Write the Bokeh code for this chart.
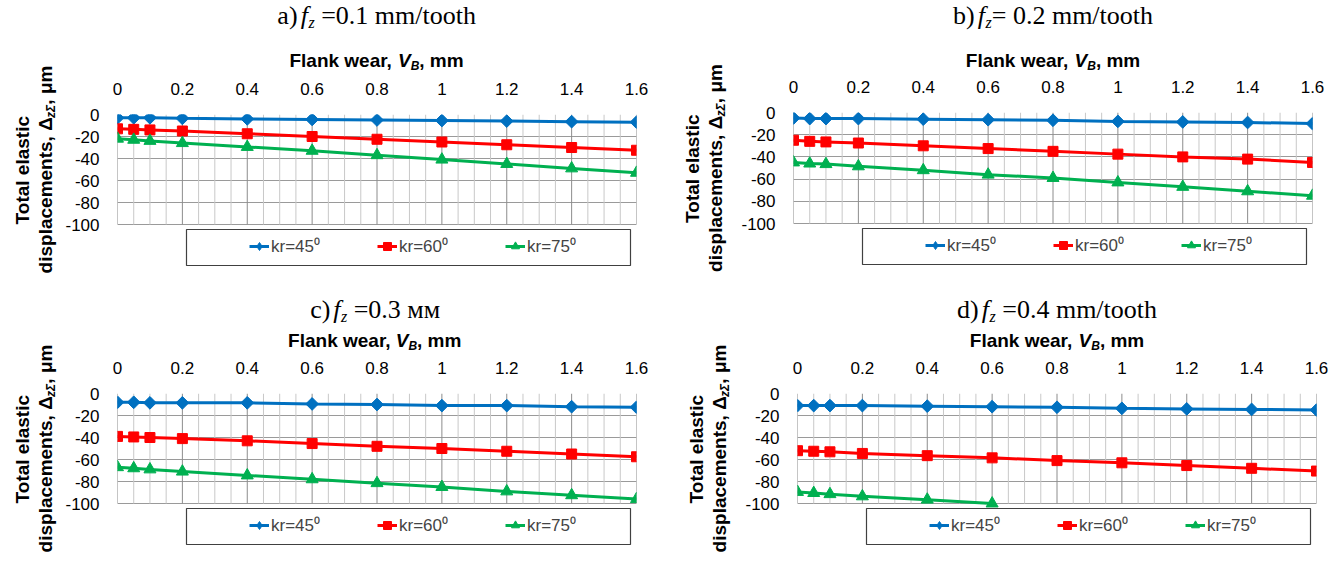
from math import pi

from bokeh.core.properties import value
from bokeh.embed import file_html
from bokeh.layouts import column, row
from bokeh.models import (BoxAnnotation, FixedTicker, Legend, LegendItem,
                          Range1d)
from bokeh.plotting import figure
from bokeh.resources import INLINE

# ---- data -------------------------------------------------------------
wear = [0, 0.05, 0.1, 0.2, 0.4, 0.6, 0.8, 1.0, 1.2, 1.4, 1.6]

a_kr45 = [-3, -3, -3, -3.5, -4, -4.5, -5, -5.5, -6, -6.5, -7]
a_kr60 = [-13, -13.5, -14, -15, -17.5, -20, -22.5, -25, -27.5, -30, -32.5]
a_kr75 = [-22, -23, -24, -26, -29.5, -33, -37, -41, -45, -49, -53]

b_kr45 = [-5, -5.5, -5.5, -5.5, -6, -6.5, -7, -8, -8.5, -9, -10]
b_kr60 = [-25, -26, -26.5, -27.5, -30, -32.5, -35, -37.5, -40, -42, -45]
b_kr75 = [-45, -46, -46.5, -48.5, -52, -56, -59, -63, -67, -71, -75]

c_kr45 = [-8, -8, -8.5, -8.5, -8.5, -9.5, -10, -11, -11, -12, -12.5]
c_kr60 = [-39, -39.5, -40, -41, -43, -45.5, -48, -50, -52.5, -55, -57.5]
c_kr75 = [-67, -68, -69, -71, -74.5, -78, -81.5, -85, -89, -92.5, -96]

d_kr45 = [-11, -11, -11, -11, -11.5, -12, -12.5, -13.5, -14, -14.5, -15]
d_kr60 = [-52, -52.5, -53, -54.5, -56.5, -58.5, -61, -63, -65.5, -68, -70.5]
# only the part of this series that lies inside the -100 limit is shown
d_kr75 = [-89.5, -90.5, -91.5, -93.5, -96.5, -100]

series_labels = ["kr=45\u2070", "kr=60\u2070", "kr=75\u2070"]
series_colors = ["#0070C0", "#FF0000", "#00B050"]

x_major = [0, 0.2, 0.4, 0.6, 0.8, 1, 1.2, 1.4, 1.6]
x_major_text = ["0", "0.2", "0.4", "0.6", "0.8", "1", "1.2", "1.4", "1.6"]
x_minor = [round(i * 0.05, 2) for i in range(33) if i % 4]
y_major = [-100, -80, -60, -40, -20, 0]
y_major_text = ["-100", "-80", "-60", "-40", "-20", "0"]
Y_MIN, Y_MAX = -100, 0

# (label, text after the subscript, gap before that text in em)
panel_titles = [
    ("a)", "=0.1 mm/tooth", .25),
    ("b)", "= 0.2 mm/tooth", 0),
    ("c)", "=0.3 \u043c\u043c", .25),
    ("d)", "=0.4 mm/tooth", .25),
]
panel_data = [
    (a_kr45, a_kr60, a_kr75),
    (b_kr45, b_kr60, b_kr75),
    (c_kr45, c_kr60, c_kr75),
    (d_kr45, d_kr60, d_kr75),
]

# ---- approximate glyph advance widths (em fractions) ------------------
SANS_B = {"F": .611, "l": .278, "a": .556, "n": .611, "k": .556, " ": .278,
          "w": .778, "e": .556, "r": .389, ",": .278, "V": .667, "B": .722,
          "m": .889, "T": .611, "o": .611, "t": .333, "i": .278, "s": .556,
          "c": .556, "d": .611, "p": .611, "\u0394": .67, "z": .5,
          "\u03a3": .62, "\u03bc": .611}
SERIF = {"a": .444, "b": .5, "c": .444, "d": .5, ")": .333, " ": .25,
         "=": .564, ".": .25, "m": .778, "/": .278, "t": .278, "o": .5,
         "h": .5, "\u043c": .62, "f": .3, "z": .389}
SERIF.update({d: .5 for d in "0123456789"})

SANS_FONT = "Liberation Sans"
SERIF_FONT = "Liberation Serif"


def text_w(s, size, table):
    return size * sum(table.get(ch, .55) for ch in s)


def put_runs(p, runs, cx, cy, vertical=False):
    """Lay out runs (text, size, font, style, drop, table, gap_after_em)
    centred on (cx, cy); drop lowers subscripts."""
    adv = [text_w(r[0], r[1], r[5]) + r[6] * r[1] for r in runs]
    pos = -sum(adv) / 2
    for (txt, size, font, style, drop, table, gap), a in zip(runs, adv):
        if vertical:
            x, y, ang = cx + drop, cy + pos, pi / 2
        else:
            x, y, ang = cx + pos, cy - drop, 0
        p.text(x=[x], y=[y], text=[txt], angle=ang,
               text_font=value(font), text_font_size=f"{size}px",
               text_font_style=style, text_color="black",
               text_align="left", text_baseline="middle")
        pos += a


def text_fig(w, h, bl=0, br=0):
    """Blank canvas whose data units are its own pixels (frame may be inset)."""
    f = figure(width=w, height=h, x_range=Range1d(bl, w - br),
               y_range=Range1d(0, h), x_axis_type=None, y_axis_type=None,
               min_border_left=bl, min_border_right=br,
               min_border_top=0, min_border_bottom=0, title=None,
               toolbar_location=None, output_backend="svg")
    f.outline_line_color = None
    f.background_fill_color = "white"
    f.border_fill_color = "white"
    return f


PANEL_W, PANEL_H = 669, 282
LEFT_STRIP = 62
TOP_STRIP = 72
FW = 519
# plot-area placement per panel (px from the panel's top-left corner)
# and vertical centres of the title / axis title
layout_params = [
    dict(left=116, top=114, h=110, tc=15, fc=60),
    dict(left=123, top=112, h=111, tc=15, fc=60),
    dict(left=112, top=111, h=110, tc=27, fc=58),
    dict(left=123, top=111, h=110, tc=27, fc=58),
]

# plot markers; the blue series also gets a narrow diamond underneath its
# rotated square so that the legend shows a diamond key
MARKERS = [dict(marker="square", size=9, angle=pi / 4),
           dict(marker="square", size=10, angle=0),
           dict(marker="triangle", size=12, angle=0)]
KEY_MARKERS = [dict(marker="diamond", size=11), None, None]


def make_chart(idx, mb_left, mb_right, lp):
    top, h = lp["top"], lp["h"]
    below = PANEL_H - top - h          # room under the grid for the legend
    y_low = Y_MIN - (Y_MAX - Y_MIN) * below / h
    p = figure(frame_width=FW, frame_height=h + below,
               min_border_left=mb_left, min_border_right=mb_right,
               min_border_top=top - TOP_STRIP, min_border_bottom=0,
               x_range=Range1d(0, 1.6), y_range=Range1d(y_low, Y_MAX),
               x_axis_location="above", output_backend="svg", title=None,
               toolbar_location=None, background_fill_color="white",
               border_fill_color="white")
    p.outline_line_color = None

    xt = FixedTicker(ticks=x_major, minor_ticks=[])
    yt = FixedTicker(ticks=y_major, minor_ticks=[])
    p.xaxis.ticker = xt
    p.yaxis.ticker = yt
    p.ygrid.ticker = yt
    p.xaxis.major_label_overrides = dict(zip(x_major, x_major_text))
    p.yaxis.major_label_overrides = dict(zip(y_major, y_major_text))
    for ax in (p.xaxis[0], p.yaxis[0]):
        ax.axis_line_color = None
        ax.major_tick_line_color = None
        ax.minor_tick_line_color = None
        ax.major_label_text_font = SANS_FONT
        ax.major_label_text_font_size = "17px"
        ax.major_label_text_color = "black"
    p.xaxis.major_label_standoff = 14
    p.yaxis.major_label_standoff = 12
    p.ygrid.grid_line_color = "#9a9a9a"
    p.xgrid.visible = False

    # vertical grid limited to the value range
    n_min, n_maj = len(x_minor), len(x_major)
    p.segment(x0=x_minor, y0=[Y_MIN] * n_min, x1=x_minor, y1=[Y_MAX] * n_min,
              line_color="#c8c8c8", line_width=1)
    p.segment(x0=x_major, y0=[Y_MIN] * n_maj, x1=x_major, y1=[Y_MAX] * n_maj,
              line_color="#8c8c8c", line_width=1)

    items = []
    for vals, col, mk, kmk, lab in zip(panel_data[idx], series_colors, MARKERS,
                                       KEY_MARKERS, series_labels):
        xs = wear[:len(vals)]
        ln = p.line(xs, vals, line_color=col, line_width=3)
        key = None
        if kmk is not None:
            key = p.scatter(xs, vals, fill_color=col, line_color=col, **kmk)
        sc = p.scatter(xs, vals, fill_color=col, line_color=col, **mk)
        items.append(LegendItem(label=lab, renderers=[ln, key or sc]))

    # legend box and entries under the grid
    p.add_layout(BoxAnnotation(left=69, right=513, top=below - 5,
                               bottom=below - 41, left_units="screen",
                               right_units="screen", top_units="screen",
                               bottom_units="screen", fill_alpha=0,
                               line_color="#404040", line_width=1.2,
                               line_alpha=1))
    legend = Legend(items=items, orientation="horizontal",
                    location=(132, below - 33), padding=0, margin=0,
                    spacing=26, glyph_width=20, glyph_height=20,
                    label_standoff=2, label_width=80, label_height=20,
                    label_text_font=SANS_FONT, label_text_font_size="17px",
                    label_text_baseline="middle",
                    border_line_alpha=0, background_fill_alpha=0)
    p.add_layout(legend, "center")
    return p


def make_panel(idx):
    lp = layout_params[idx]
    left, top, h = lp["left"], lp["top"], lp["h"]
    inner_w = PANEL_W - LEFT_STRIP
    fl = left - LEFT_STRIP            # plot-area left inside the right column
    fr = inner_w - fl - FW            # space right of the plot area
    fcx = fl + FW / 2

    # titles above the plot area
    top_f = text_fig(inner_w, TOP_STRIP, fl, fr)
    lab, rest, gap = panel_titles[idx]
    put_runs(top_f, [(lab, 26, SERIF_FONT, "normal", 0, SERIF, .12),
                     ("f", 26, SERIF_FONT, "italic", 0, SERIF, 0),
                     ("z", 16, SERIF_FONT, "italic", 7, SERIF, gap * 26 / 16),
                     (rest, 26, SERIF_FONT, "normal", 0, SERIF, 0)],
             fcx, TOP_STRIP - lp["tc"])
    put_runs(top_f, [("Flank wear,", 19, SANS_FONT, "bold", 0, SANS_B, .278),
                     ("V", 19, SANS_FONT, "bold italic", 0, SANS_B, 0),
                     ("B", 12, SANS_FONT, "bold italic", 5, SANS_B, 0),
                     (", mm", 19, SANS_FONT, "bold", 0, SANS_B, 0)],
             fcx, TOP_STRIP - lp["fc"])

    # vertical axis title
    left_f = text_fig(LEFT_STRIP, PANEL_H)
    cy = PANEL_H - (top + h / 2)
    put_runs(left_f, [("Total elastic", 19, SANS_FONT, "bold", 0, SANS_B, 0)],
             22, cy, vertical=True)
    put_runs(left_f, [("displacements, \u0394", 19, SANS_FONT, "bold", 0, SANS_B, 0),
                      ("z\u03a3", 12, SANS_FONT, "bold italic", 5, SANS_B, 0),
                      (", \u03bcm", 19, SANS_FONT, "bold", 0, SANS_B, 0)],
             45, cy, vertical=True)

    chart = make_chart(idx, fl, fr, lp)
    return row(left_f, column(top_f, chart))


panels = [make_panel(i) for i in range(4)]
page = column(row(panels[0], panels[1]), row(panels[2], panels[3]))

open("out.html", "w").write(file_html(page, INLINE))
